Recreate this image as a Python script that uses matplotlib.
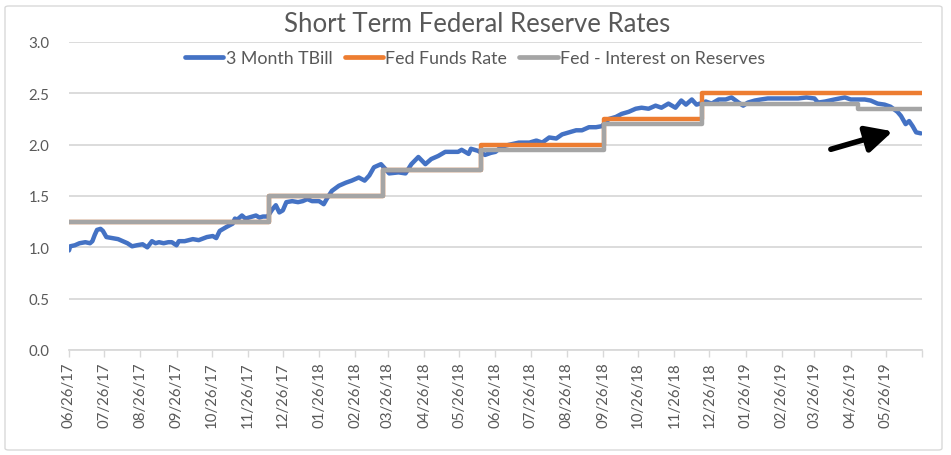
import matplotlib
matplotlib.use("Agg")
import matplotlib.pyplot as plt
from matplotlib.patches import FancyBboxPatch
import pandas as pd

plt.rcParams['font.family'] = ['Lato', 'DejaVu Sans']

# ---------------- data ----------------
tbill_dates = [
    "2017-06-26", "2017-06-27", "2017-07-01", "2017-07-05", "2017-07-10", "2017-07-14",
    "2017-07-16", "2017-07-18", "2017-07-20", "2017-07-23", "2017-07-25", "2017-07-28",
    "2017-08-02", "2017-08-07", "2017-08-11", "2017-08-15", "2017-08-19", "2017-08-23",
    "2017-08-28", "2017-09-01", "2017-09-05", "2017-09-08", "2017-09-11", "2017-09-15",
    "2017-09-19", "2017-09-22", "2017-09-26", "2017-09-28", "2017-10-03", "2017-10-10",
    "2017-10-15", "2017-10-22", "2017-10-27", "2017-10-30", "2017-11-02", "2017-11-08",
    "2017-11-13", "2017-11-15", "2017-11-17", "2017-11-21", "2017-11-24", "2017-11-27",
    "2017-12-03", "2017-12-06", "2017-12-09", "2017-12-13", "2017-12-17", "2017-12-20",
    "2017-12-23", "2017-12-26", "2017-12-29", "2018-01-03", "2018-01-08", "2018-01-12",
    "2018-01-16", "2018-01-20", "2018-01-26", "2018-01-30", "2018-02-02", "2018-02-06",
    "2018-02-12", "2018-02-18", "2018-02-23", "2018-03-01", "2018-03-06", "2018-03-10",
    "2018-03-14", "2018-03-20", "2018-03-24", "2018-03-27", "2018-04-04", "2018-04-10",
    "2018-04-15", "2018-04-21", "2018-04-27", "2018-05-02", "2018-05-08", "2018-05-14",
    "2018-05-19", "2018-05-25", "2018-05-28", "2018-06-03", "2018-06-05", "2018-06-11",
    "2018-06-17", "2018-06-22", "2018-06-26", "2018-07-01", "2018-07-08", "2018-07-16",
    "2018-07-25", "2018-07-31", "2018-08-05", "2018-08-11", "2018-08-17", "2018-08-22",
    "2018-08-28", "2018-09-03", "2018-09-08", "2018-09-14", "2018-09-20", "2018-09-25",
    "2018-10-01", "2018-10-07", "2018-10-12", "2018-10-18", "2018-10-24", "2018-10-29",
    "2018-11-04", "2018-11-10", "2018-11-15", "2018-11-21", "2018-11-27", "2018-12-02",
    "2018-12-06", "2018-12-11", "2018-12-15", "2018-12-18", "2018-12-23", "2018-12-28",
    "2019-01-03", "2019-01-09", "2019-01-14", "2019-01-20", "2019-01-24", "2019-01-28",
    "2019-02-03", "2019-02-08", "2019-02-14", "2019-02-24", "2019-03-03", "2019-03-12",
    "2019-03-19", "2019-03-26", "2019-03-29", "2019-04-04", "2019-04-12", "2019-04-21",
    "2019-04-26", "2019-05-02", "2019-05-08", "2019-05-13", "2019-05-19", "2019-05-25",
    "2019-05-30", "2019-06-05", "2019-06-08", "2019-06-12", "2019-06-15", "2019-06-18",
    "2019-06-21", "2019-06-25",
]
tbill_values = [
    0.97, 1.01, 1.02, 1.04, 1.05, 1.04,
    1.06, 1.12, 1.17, 1.18, 1.16, 1.10,
    1.09, 1.08, 1.06, 1.04, 1.01, 1.02,
    1.03, 1.00, 1.06, 1.04, 1.05, 1.04,
    1.05, 1.05, 1.02, 1.06, 1.06, 1.08,
    1.07, 1.10, 1.11, 1.09, 1.16, 1.20,
    1.23, 1.28, 1.27, 1.31, 1.28, 1.29,
    1.31, 1.29, 1.30, 1.30, 1.37, 1.41,
    1.34, 1.36, 1.44, 1.45, 1.44, 1.45,
    1.47, 1.45, 1.45, 1.42, 1.48, 1.55,
    1.60, 1.63, 1.65, 1.68, 1.65, 1.70,
    1.78, 1.81, 1.76, 1.72, 1.73, 1.72,
    1.81, 1.88, 1.81, 1.86, 1.89, 1.93,
    1.93, 1.93, 1.95, 1.91, 1.96, 1.94,
    1.90, 1.92, 1.93, 1.98, 2.00, 2.02,
    2.02, 2.04, 2.02, 2.07, 2.06, 2.10,
    2.12, 2.14, 2.14, 2.17, 2.17, 2.18,
    2.25, 2.27, 2.30, 2.32, 2.35, 2.36,
    2.35, 2.38, 2.36, 2.40, 2.36, 2.43,
    2.39, 2.44, 2.39, 2.40, 2.42, 2.40,
    2.44, 2.44, 2.46, 2.41, 2.38, 2.41,
    2.43, 2.44, 2.45, 2.45, 2.45, 2.45,
    2.46, 2.45, 2.41, 2.42, 2.44, 2.46,
    2.44, 2.44, 2.44, 2.43, 2.40, 2.39,
    2.37, 2.32, 2.28, 2.20, 2.23, 2.18,
    2.12, 2.11,
]

ffr_dates = ["2017-06-26", "2017-12-14", "2018-03-22", "2018-06-14", "2018-09-27",
             "2018-12-20", "2019-06-25"]
ffr_values = [1.25, 1.50, 1.75, 2.00, 2.25, 2.50, 2.50]

ioer_dates = ["2017-06-26", "2017-12-14", "2018-03-22", "2018-06-14", "2018-09-27",
              "2018-12-20", "2019-05-02", "2019-06-25"]
ioer_values = [1.25, 1.50, 1.75, 1.95, 2.20, 2.40, 2.35, 2.35]

series_names = ["3 Month TBill", "Fed Funds Rate", "Fed - Interest on Reserves"]
series_colors = ["#4472C4", "#ED7D31", "#A5A5A5"]
title = "Short Term Federal Reserve Rates"
y_ticks = [0.0, 0.5, 1.0, 1.5, 2.0, 2.5, 3.0]
x_start, x_end = "2017-06-26", "2019-06-26"
arrow_tail = ("2019-04-09", 1.955)
arrow_tip = ("2019-06-01", 2.13)

# ---------------- figure ----------------
W, H = 951, 456
fig = plt.figure(figsize=(W / 100, H / 100), dpi=100)
fig.patch.set_facecolor("white")

border = FancyBboxPatch((5 / W, 5 / H), 937 / W, 444 / H,
                        boxstyle="round,pad=0,rounding_size=0.004",
                        transform=fig.transFigure, fill=False,
                        edgecolor="#D9D9D9", linewidth=1.0)
fig.patches.append(border)

ax = fig.add_axes([69 / W, 1 - 351 / H, (922 - 69) / W, (351 - 43) / H])

td = pd.to_datetime(tbill_dates)
fd = pd.to_datetime(ffr_dates)
idd = pd.to_datetime(ioer_dates)

lw = 3.2
ax.plot(td, tbill_values, color=series_colors[0], lw=lw, label=series_names[0],
        solid_joinstyle="round", solid_capstyle="round", zorder=3)
ax.plot(fd, ffr_values, color=series_colors[1], lw=lw, drawstyle="steps-post",
        label=series_names[1], zorder=4)
ax.plot(idd, ioer_values, color=series_colors[2], lw=lw, drawstyle="steps-post",
        label=series_names[2], zorder=5)

ax.set_ylim(0, 3.0)
ax.set_yticks(y_ticks)
ax.set_yticklabels([f"{v:.1f}" for v in y_ticks])
ax.set_xlim(pd.Timestamp(x_start), pd.Timestamp(x_end))

ticks = pd.date_range(x_start, x_end, freq=pd.DateOffset(months=1))
ax.set_xticks(ticks)
labels = [t.strftime("%m/%d/%y") for t in ticks]
labels[-1] = ""
ax.set_xticklabels(labels, rotation=90)

ax.grid(axis="y", color="#D9D9D9", lw=1.3, zorder=0)
ax.set_axisbelow(True)
for s in ["top", "right", "left"]:
    ax.spines[s].set_visible(False)
ax.spines["bottom"].set_color("#D9D9D9")
ax.spines["bottom"].set_linewidth(1.3)
ax.tick_params(axis="x", colors="#595959", length=5, width=1.0, color="#D9D9D9",
               labelsize=10.8, pad=3)
ax.tick_params(axis="y", colors="#595959", length=0, labelsize=10.8, pad=14)

fig.text(477 / W, 1 - 25 / H, title, ha="center", va="center",
         fontsize=18.5, color="#595959")

leg = fig.legend(loc="center", bbox_to_anchor=(475 / W, 1 - 59 / H), ncol=3,
                 frameon=False, fontsize=12.8, handlelength=2.15, handletextpad=0.12,
                 columnspacing=0.7, labelcolor="#595959")
for line in leg.get_lines():
    line.set_linewidth(3.4)
    line.set_solid_capstyle("round")

ax.annotate("", xy=(pd.Timestamp(arrow_tip[0]), arrow_tip[1]),
            xytext=(pd.Timestamp(arrow_tail[0]), arrow_tail[1]),
            arrowprops=dict(arrowstyle="-|>,head_length=0.8,head_width=0.4",
                            mutation_scale=20, color="black", lw=4.0,
                            shrinkA=0, shrinkB=0),
            zorder=6)

fig.savefig("out.png", dpi=100, facecolor="white")
